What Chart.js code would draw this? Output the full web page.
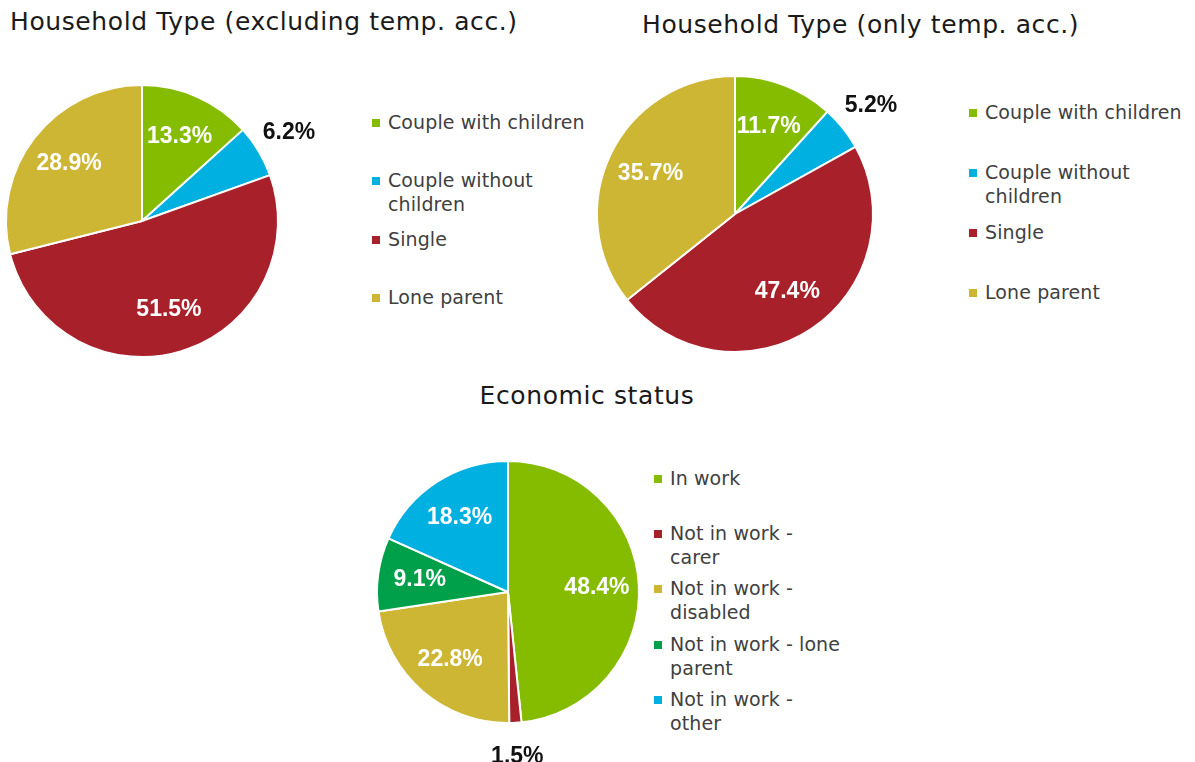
<!DOCTYPE html>
<html>
<head>
<meta charset="utf-8">
<script src="https://cdn.jsdelivr.net/npm/chart.js@4"></script>
<style>
  body { margin: 0; background: #fff; width: 1195px; height: 762px; position: relative; overflow: hidden;
         font-family: "DejaVu Sans", sans-serif; }
  .title { position: absolute; color: #1a1a1a; font-size: 25px; letter-spacing: 0.6px; white-space: nowrap; line-height: 1; }
  .box { position: absolute; }
  .legend { position: absolute; color: #404040; font-size: 19px; letter-spacing: 0.1px; line-height: 24px; }
  .item { position: absolute; white-space: nowrap; }
  .sw { position: absolute; width: 8px; height: 8px; top: 9px; }
</style>
</head>
<body>

<div class="title" style="left:10px; top:9px;">Household Type (excluding temp. acc.)</div>
<div class="title" style="left:642px; top:12px;">Household Type (only temp. acc.)</div>
<div class="title" style="left:587px; top:383px; transform:translateX(-50%);">Economic status</div>

<div class="box" style="left:0; top:60px; width:360px; height:320px;"><canvas id="c1"></canvas></div>
<div class="box" style="left:590px; top:60px; width:360px; height:310px;"><canvas id="c2"></canvas></div>
<div class="box" style="left:360px; top:440px; width:290px; height:322px;"><canvas id="c3"></canvas></div>

<div class="legend" id="l1" style="left:372px; top:0;"></div>
<div class="legend" id="l2" style="left:969px; top:0;"></div>
<div class="legend" id="l3" style="left:654px; top:0;"></div>

<script>
const householdTypes = ["Couple with children", ["Couple without", "children"], "Single", "Lone parent"]
const excludingTemp = [13.3, 6.2, 51.5, 28.9]
const onlyTemp = [11.7, 5.2, 47.4, 35.7]

const economicStatus = ["In work", ["Not in work -", "carer"], ["Not in work -", "disabled"], ["Not in work - lone", "parent"], ["Not in work -", "other"]]
const economicValues = [48.4, 1.5, 22.8, 9.1, 18.3]

const householdColors = ["#85bc00", "#00b0e0", "#a8202a", "#cdb634"]
const economicColors = ["#85bc00", "#a8202a", "#cdb634", "#00a04a", "#00b0e0"]

// percent labels: white inside the slice, black outside for the small ones
const sliceLabels = {
    id: "sliceLabels",
    afterDatasetsDraw(chart) {
        const ctx = chart.ctx
        const meta = chart.getDatasetMeta(0)
        const values = chart.data.datasets[0].data
        ctx.save()
        ctx.font = "bold 23px 'Liberation Sans', sans-serif"
        ctx.textAlign = "center"
        ctx.textBaseline = "middle"
        meta.data.forEach(function(arc, i) {
            const p = arc.getProps(["x", "y", "startAngle", "endAngle", "outerRadius"], true)
            const mid = (p.startAngle + p.endAngle) / 2
            const small = values[i] < 7
            const dist = p.outerRadius * (small ? 1.26 : 0.68)
            ctx.fillStyle = small ? "#111" : "#fff"
            ctx.fillText(values[i].toFixed(1) + "%", p.x + Math.cos(mid) * dist, p.y + Math.sin(mid) * dist)
        })
        ctx.restore()
    }
}

function makePie(id, labels, values, colors, padding) {
    new Chart(document.getElementById(id), {
        type: "pie",
        data: {
            labels: labels,
            datasets: [{
                data: values,
                backgroundColor: colors,
                borderColor: "#fff",
                borderWidth: 2
            }]
        },
        options: {
            responsive: true,
            maintainAspectRatio: false,
            animation: false,
            layout: { padding: padding },
            plugins: {
                legend: { display: false },
                tooltip: { enabled: false }
            }
        },
        plugins: [sliceLabels]
    })
}

function makeLegend(id, labels, colors, tops) {
    const el = document.getElementById(id)
    labels.forEach(function(label, i) {
        const item = document.createElement("div")
        item.className = "item"
        item.style.top = tops[i] + "px"
        const lines = Array.isArray(label) ? label : [label]
        item.innerHTML = '<span class="sw" style="left:0;background:' + colors[i] + '"></span>' +
            '<div style="margin-left:16px">' + lines.join("<br>") + '</div>'
        el.appendChild(item)
    })
}

makePie("c1", householdTypes, excludingTemp, householdColors, { left: 5, top: 24, right: 81, bottom: 22 })
makePie("c2", householdTypes, onlyTemp, householdColors, { left: 6, top: 15, right: 76, bottom: 17 })
makePie("c3", economicStatus, economicValues, economicColors, { left: 16, top: 20, right: 10, bottom: 38 })

makeLegend("l1", householdTypes, householdColors, [110, 168, 227, 285])
makeLegend("l2", householdTypes, householdColors, [100, 160, 220, 280])
makeLegend("l3", economicStatus, economicColors, [466, 521, 576, 632, 687])
</script>
</body>
</html>
